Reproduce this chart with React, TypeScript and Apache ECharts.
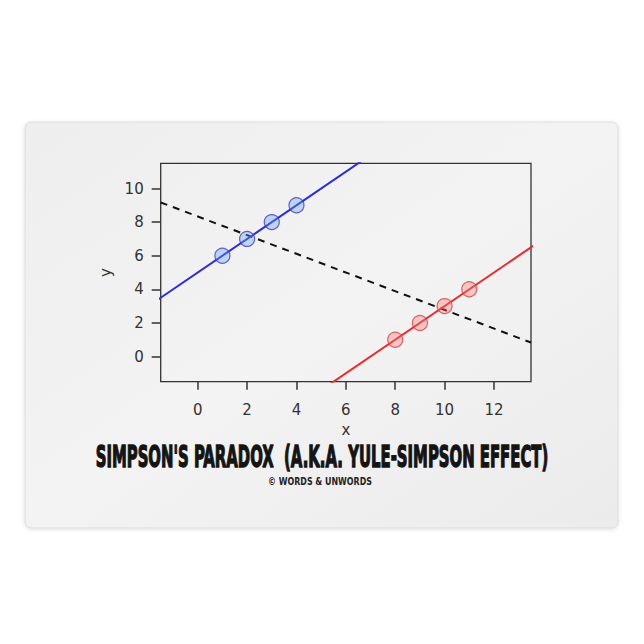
import React, { useEffect, useRef } from "react";
import * as echarts from "echarts";

const groupA = [[1, 6], [2, 7], [3, 8], [4, 9]];
const groupB = [[8, 1], [9, 2], [10, 3], [11, 4]];
const fitA = [[-2, 3], [7, 12]];
const fitB = [[5, -2], [14, 7]];
const fitAll = [[-1.5, 9.17], [13.5, 0.83]];
const xTicks = [0, 2, 4, 6, 8, 10, 12];
const yTicks = [0, 2, 4, 6, 8, 10];
const titleText = "SIMPSON'S PARADOX  (A.K.A. YULE-SIMPSON EFFECT)";
const creditText = "© WORDS & UNWORDS";

function measure(text: string, font: string): number {
  const ctx = document.createElement("canvas").getContext("2d");
  if (!ctx) return 0;
  ctx.font = font;
  return ctx.measureText(text).width;
}

export default function App() {
  const ref = useRef<HTMLDivElement>(null);
  useEffect(() => {
    if (!ref.current) return;
    const chart = echarts.init(ref.current, undefined, { renderer: "svg" });
    const titleFamily = '"DejaVu Sans Condensed", "DejaVu Sans", sans-serif';
    const tw = measure(titleText, `bold 31px ${titleFamily}`) || 455;
    const titleScale = 453 / tw;
    const cw = measure(creditText, `bold 10px "DejaVu Sans", sans-serif`) || 104;
    const creditScale = 104 / cw;
    const axisFont = { fontFamily: "DejaVu Sans", fontSize: 15, color: "#333" };
    chart.setOption({
      animation: false,
      backgroundColor: "#ffffff",
      graphic: [
        {
          type: "rect",
          z: -10,
          silent: true,
          shape: { x: 25, y: 122, width: 593, height: 406, r: 6 },
          style: {
            fill: {
              type: "linear", x: 0, y: 0, x2: 1, y2: 1,
              colorStops: [
                { offset: 0, color: "#eeeeee" },
                { offset: 0.5, color: "#f3f3f3" },
                { offset: 1, color: "#ebebeb" },
              ],
            },
            stroke: "#dcdcdc",
            lineWidth: 1,
            shadowColor: "rgba(0,0,0,0.12)",
            shadowBlur: 4,
            shadowOffsetY: 1,
          },
        },
        {
          type: "text",
          x: 322,
          y: 456,
          scaleX: titleScale,
          silent: true,
          style: {
            text: titleText,
            fontFamily: titleFamily,
            fontWeight: "bold",
            fontSize: 31,
            fill: "#141414",
            stroke: "#141414",
            lineWidth: 1.4,
            align: "center",
            verticalAlign: "middle",
          },
        },
        {
          type: "text",
          x: 320,
          y: 482,
          scaleX: creditScale,
          silent: true,
          style: {
            text: creditText,
            fontFamily: "DejaVu Sans",
            fontWeight: "bold",
            fontSize: 10,
            fill: "#222",
            align: "center",
            verticalAlign: "middle",
          },
        },
      ],
      grid: {
        left: 160.7,
        top: 163.3,
        width: 370.3,
        height: 218.4,
        show: true,
        borderColor: "#333",
        borderWidth: 1.3,
        backgroundColor: "transparent",
      },
      xAxis: {
        type: "value",
        min: -1.5,
        max: 13.5,
        name: "x",
        nameLocation: "middle",
        nameGap: 41,
        nameTextStyle: axisFont,
        axisLine: { show: false, onZero: false },
        splitLine: { show: false },
        axisTick: {
          show: true,
          length: 8,
          customValues: xTicks,
          lineStyle: { color: "#333", width: 1.5 },
        },
        axisLabel: { ...axisFont, margin: 21, customValues: xTicks },
      },
      yAxis: {
        type: "value",
        min: -1.5,
        max: 11.5,
        name: "y",
        nameLocation: "middle",
        nameGap: 38,
        nameRotate: 90,
        nameTextStyle: axisFont,
        axisLine: { show: false, onZero: false },
        splitLine: { show: false },
        axisTick: {
          show: true,
          length: 9,
          customValues: yTicks,
          lineStyle: { color: "#333", width: 1.5 },
        },
        axisLabel: { ...axisFont, margin: 17, customValues: yTicks },
      },
      series: [
        {
          type: "line",
          data: fitAll,
          symbol: "none",
          clip: true,
          lineStyle: { color: "#111", width: 2, type: [7, 6] },
          z: 3,
        },
        {
          type: "line",
          data: fitA,
          symbol: "none",
          clip: true,
          lineStyle: { color: "#2a2ae6", width: 2 },
          z: 3,
        },
        {
          type: "line",
          data: fitB,
          symbol: "none",
          clip: true,
          lineStyle: { color: "#ea2a2a", width: 2 },
          z: 3,
        },
        {
          type: "scatter",
          data: groupA,
          symbol: "circle",
          symbolSize: 15,
          itemStyle: {
            color: "rgba(100,160,230,0.45)",
            borderColor: "#3a3adc",
            borderWidth: 1.2,
          },
          z: 4,
        },
        {
          type: "scatter",
          data: groupB,
          symbol: "circle",
          symbolSize: 15,
          itemStyle: {
            color: "rgba(240,120,120,0.45)",
            borderColor: "#e04040",
            borderWidth: 1.2,
          },
          z: 4,
        },
      ],
    });
    return () => chart.dispose();
  }, []);
  return (
    <div
      ref={ref}
      style={{ position: "fixed", left: 0, top: 0, width: 644, height: 644 }}
    />
  );
}
